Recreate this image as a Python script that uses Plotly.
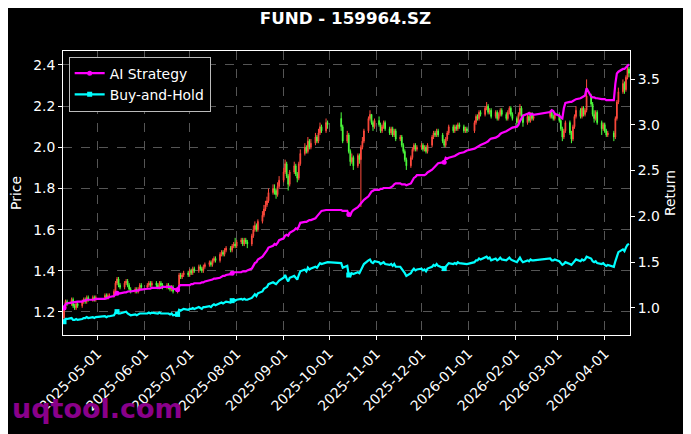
import pandas as pd
import plotly.graph_objects as go

# ---------------- data ----------------
holidays = ['2025-05-01', '2025-05-02', '2025-05-05', '2025-06-02',
            '2025-10-01', '2025-10-02', '2025-10-03', '2025-10-06', '2025-10-07', '2025-10-08',
            '2026-01-01', '2026-01-02',
            '2026-02-16', '2026-02-17', '2026-02-18', '2026-02-19', '2026-02-20', '2026-02-23',
            '2026-04-06']
start_date = '2025-04-09'
end_date = '2026-04-17'

price_open = [
    # Apr 2025
    1.17, 1.22, 1.25, 1.24, 1.26, 1.23, 1.22, 1.24, 1.23, 1.25, 1.26, 1.25, 1.27, 1.26, 1.27, 1.26,
    # May
    1.27, 1.28, 1.27, 1.28, 1.28, 1.30, 1.34, 1.36, 1.33, 1.32, 1.34, 1.35, 1.33, 1.31, 1.30, 1.31, 1.30, 1.31, 1.33,
    # Jun
    1.32, 1.33, 1.34, 1.33, 1.34, 1.33, 1.32, 1.34, 1.33, 1.32, 1.33, 1.32, 1.31, 1.32, 1.30, 1.32, 1.38, 1.37, 1.38, 1.39,
    # Jul
    1.38, 1.40, 1.39, 1.41, 1.40, 1.42, 1.41, 1.40, 1.42, 1.43, 1.44, 1.43, 1.45, 1.46, 1.45, 1.48, 1.49, 1.48, 1.50, 1.51, 1.50, 1.52, 1.53,
    # Aug
    1.52, 1.54, 1.55, 1.53, 1.55, 1.54, 1.53, 1.57, 1.60, 1.62, 1.60, 1.64, 1.67, 1.70, 1.72, 1.74, 1.78, 1.80, 1.79, 1.77, 1.81,
    # Sep
    1.84, 1.88, 1.92, 1.86, 1.82, 1.88, 1.91, 1.87, 1.85, 1.92, 1.97, 2.00, 1.98, 2.03, 2.00, 2.02, 2.05, 2.03, 2.07, 2.10, 2.08, 2.12,
    # Oct
    2.14, 2.10, 2.03, 2.06, 1.98, 1.93, 1.95, 1.91, 1.96, 1.94, 2.00, 2.03, 2.08, 2.14, 2.16, 2.12, 2.10,
    # Nov
    2.13, 2.11, 2.08, 2.10, 2.12, 2.09, 2.07, 2.09, 2.06, 2.08, 2.04, 2.05, 2.01, 1.98, 1.94, 1.91, 1.95, 1.99, 2.01, 1.99,
    # Dec
    2.00, 2.01, 1.99, 2.00, 1.98, 2.01, 2.05, 2.07, 2.06, 2.08, 2.06, 2.03, 2.01, 2.04, 2.07, 2.10, 2.08, 2.10, 2.09, 2.11, 2.10, 2.08, 2.09,
    # Jan 2026
    2.08, 2.12, 2.15, 2.14, 2.17, 2.16, 2.19, 2.20, 2.17, 2.18, 2.15, 2.17, 2.14, 2.16, 2.18, 2.16, 2.14, 2.17, 2.19, 2.16,
    # Feb
    2.14, 2.12, 2.16, 2.19, 2.15, 2.12, 2.15, 2.13, 2.16, 2.14, 2.15, 2.17, 2.15, 2.14,
    # Mar
    2.16, 2.13, 2.09, 2.05, 2.08, 2.12, 2.07, 2.04, 2.10, 2.15, 2.18, 2.15, 2.19, 2.16, 2.18, 2.25, 2.21, 2.16, 2.14, 2.17, 2.12, 2.09,
    # Apr
    2.11, 2.08, 2.06, 2.07, 2.05, 2.14, 2.22, 2.27, 2.31, 2.28, 2.34, 2.38,
]
price_close = [
    1.22, 1.25, 1.24, 1.26, 1.23, 1.22, 1.24, 1.23, 1.25, 1.26, 1.25, 1.27, 1.26, 1.27, 1.26, 1.27,
    1.28, 1.27, 1.28, 1.28, 1.30, 1.34, 1.36, 1.33, 1.32, 1.34, 1.35, 1.33, 1.31, 1.30, 1.31, 1.30, 1.31, 1.33, 1.32,
    1.33, 1.34, 1.33, 1.34, 1.33, 1.32, 1.34, 1.33, 1.32, 1.33, 1.32, 1.31, 1.32, 1.30, 1.31, 1.38, 1.37, 1.38, 1.39, 1.38,
    1.40, 1.39, 1.41, 1.40, 1.42, 1.41, 1.40, 1.42, 1.43, 1.44, 1.43, 1.45, 1.46, 1.45, 1.48, 1.49, 1.48, 1.50, 1.51, 1.50, 1.52, 1.53, 1.52,
    1.54, 1.55, 1.53, 1.55, 1.54, 1.53, 1.57, 1.60, 1.62, 1.60, 1.64, 1.67, 1.70, 1.72, 1.74, 1.78, 1.80, 1.79, 1.77, 1.81, 1.84,
    1.88, 1.92, 1.86, 1.82, 1.88, 1.91, 1.87, 1.85, 1.92, 1.97, 2.00, 1.98, 2.03, 2.00, 2.02, 2.05, 2.03, 2.07, 2.10, 2.08, 2.12, 2.11,
    2.10, 2.03, 2.06, 1.98, 1.93, 1.95, 1.91, 1.96, 1.94, 2.00, 2.03, 2.08, 2.14, 2.16, 2.12, 2.10, 2.13,
    2.11, 2.08, 2.10, 2.12, 2.09, 2.07, 2.09, 2.06, 2.08, 2.04, 2.05, 2.01, 1.98, 1.94, 1.91, 1.95, 1.99, 2.01, 1.99, 2.00,
    2.01, 1.99, 2.00, 1.98, 2.01, 2.05, 2.07, 2.06, 2.08, 2.06, 2.03, 2.01, 2.04, 2.07, 2.10, 2.08, 2.10, 2.09, 2.11, 2.10, 2.08, 2.09, 2.08,
    2.12, 2.15, 2.14, 2.17, 2.16, 2.19, 2.20, 2.17, 2.18, 2.15, 2.17, 2.14, 2.16, 2.18, 2.16, 2.14, 2.17, 2.19, 2.16, 2.14,
    2.12, 2.16, 2.19, 2.15, 2.12, 2.15, 2.13, 2.16, 2.14, 2.15, 2.17, 2.15, 2.14, 2.16,
    2.13, 2.09, 2.05, 2.08, 2.12, 2.07, 2.04, 2.10, 2.15, 2.18, 2.15, 2.19, 2.16, 2.18, 2.25, 2.21, 2.16, 2.14, 2.17, 2.12, 2.09, 2.11,
    2.08, 2.06, 2.07, 2.05, 2.14, 2.22, 2.27, 2.31, 2.28, 2.34, 2.38, 2.36,
]
price_high = [
    1.23, 1.26, 1.26, 1.27, 1.27, 1.24, 1.25, 1.25, 1.26, 1.27, 1.27, 1.28, 1.28, 1.28, 1.28, 1.28,
    1.29, 1.29, 1.29, 1.29, 1.31, 1.35, 1.37, 1.37, 1.34, 1.35, 1.36, 1.36, 1.34, 1.32, 1.32, 1.32, 1.32, 1.34, 1.34,
    1.34, 1.35, 1.35, 1.35, 1.35, 1.34, 1.35, 1.35, 1.34, 1.34, 1.34, 1.33, 1.33, 1.33, 1.32, 1.39, 1.39, 1.39, 1.40, 1.40,
    1.41, 1.41, 1.42, 1.42, 1.43, 1.43, 1.42, 1.43, 1.44, 1.45, 1.45, 1.46, 1.47, 1.47, 1.49, 1.50, 1.50, 1.51, 1.52, 1.52, 1.53, 1.54, 1.56,
    1.55, 1.56, 1.56, 1.56, 1.56, 1.55, 1.58, 1.62, 1.64, 1.63, 1.65, 1.69, 1.72, 1.74, 1.76, 1.80, 1.82, 1.82, 1.80, 1.83, 1.86,
    1.90, 1.94, 1.93, 1.87, 1.89, 1.93, 1.92, 1.88, 1.93, 1.99, 2.02, 2.01, 2.05, 2.04, 2.04, 2.07, 2.06, 2.09, 2.12, 2.11, 2.14, 2.13,
    2.17, 2.11, 2.08, 2.07, 1.99, 1.97, 1.96, 1.97, 1.97, 2.01, 2.05, 2.09, 2.15, 2.18, 2.16, 2.13, 2.14,
    2.15, 2.12, 2.11, 2.13, 2.13, 2.10, 2.10, 2.10, 2.09, 2.09, 2.06, 2.06, 2.02, 1.99, 1.95, 1.96, 2.00, 2.02, 2.02, 2.01,
    2.02, 2.02, 2.01, 2.01, 2.02, 2.06, 2.08, 2.08, 2.09, 2.09, 2.07, 2.04, 2.05, 2.08, 2.11, 2.11, 2.11, 2.11, 2.12, 2.12, 2.11, 2.10, 2.10,
    2.13, 2.16, 2.16, 2.18, 2.18, 2.20, 2.22, 2.21, 2.19, 2.19, 2.18, 2.18, 2.17, 2.19, 2.19, 2.17, 2.18, 2.20, 2.20, 2.17,
    2.15, 2.17, 2.21, 2.20, 2.16, 2.16, 2.16, 2.17, 2.17, 2.16, 2.18, 2.18, 2.16, 2.17,
    2.17, 2.14, 2.10, 2.09, 2.13, 2.13, 2.08, 2.11, 2.16, 2.20, 2.19, 2.20, 2.20, 2.19, 2.33, 2.26, 2.22, 2.18, 2.18, 2.18, 2.13, 2.12,
    2.12, 2.09, 2.08, 2.08, 2.15, 2.23, 2.29, 2.33, 2.32, 2.35, 2.40, 2.39,
]
price_low = [
    1.16, 1.21, 1.23, 1.23, 1.22, 1.21, 1.21, 1.22, 1.22, 1.24, 1.24, 1.24, 1.25, 1.25, 1.25, 1.25,
    1.26, 1.26, 1.26, 1.27, 1.27, 1.29, 1.33, 1.32, 1.31, 1.31, 1.33, 1.32, 1.30, 1.29, 1.29, 1.29, 1.29, 1.30, 1.31,
    1.31, 1.32, 1.32, 1.32, 1.32, 1.31, 1.31, 1.32, 1.31, 1.31, 1.31, 1.30, 1.30, 1.29, 1.29, 1.31, 1.36, 1.36, 1.37, 1.37,
    1.37, 1.38, 1.38, 1.39, 1.39, 1.40, 1.39, 1.39, 1.41, 1.42, 1.42, 1.42, 1.44, 1.44, 1.44, 1.47, 1.47, 1.47, 1.49, 1.49, 1.49, 1.51, 1.51,
    1.51, 1.53, 1.52, 1.52, 1.53, 1.51, 1.52, 1.56, 1.59, 1.59, 1.59, 1.63, 1.66, 1.69, 1.71, 1.73, 1.77, 1.77, 1.75, 1.76, 1.80,
    1.83, 1.87, 1.85, 1.79, 1.81, 1.87, 1.86, 1.83, 1.84, 1.91, 1.96, 1.97, 1.97, 1.99, 1.99, 2.01, 2.02, 2.02, 2.06, 2.07, 2.07, 2.09,
    2.08, 2.02, 2.02, 1.97, 1.91, 1.92, 1.89, 1.90, 1.92, 1.71, 1.99, 2.02, 2.07, 2.13, 2.11, 2.08, 2.09,
    2.10, 2.07, 2.07, 2.09, 2.08, 2.06, 2.06, 2.05, 2.05, 2.03, 2.03, 2.00, 1.97, 1.93, 1.89, 1.90, 1.94, 1.98, 1.98, 1.98,
    1.99, 1.98, 1.98, 1.97, 1.97, 2.00, 2.04, 2.05, 2.05, 2.05, 2.02, 2.00, 2.00, 2.03, 2.06, 2.07, 2.07, 2.08, 2.08, 2.09, 2.07, 2.07, 2.07,
    2.07, 2.11, 2.13, 2.13, 2.15, 2.15, 2.18, 2.16, 2.16, 2.14, 2.14, 2.13, 2.13, 2.15, 2.15, 2.13, 2.13, 2.16, 2.15, 2.13,
    2.10, 2.11, 2.15, 2.14, 2.10, 2.11, 2.12, 2.12, 2.13, 2.13, 2.14, 2.14, 2.13, 2.13,
    2.12, 2.08, 2.03, 2.04, 2.07, 2.06, 2.02, 2.03, 2.09, 2.14, 2.14, 2.14, 2.15, 2.15, 2.17, 2.20, 2.15, 2.12, 2.13, 2.11, 2.06, 2.08,
    2.07, 2.05, 2.05, 2.03, 2.04, 2.13, 2.21, 2.26, 2.26, 2.27, 2.33, 2.34,
]
ai_strategy = [
    1.00, 1.04, 1.05, 1.06, 1.06, 1.06, 1.07, 1.07, 1.07, 1.08, 1.08, 1.09, 1.09, 1.09, 1.09, 1.10,
    1.10, 1.11, 1.11, 1.12, 1.13, 1.15, 1.16, 1.16, 1.16, 1.17, 1.17, 1.18, 1.18, 1.18, 1.19, 1.19, 1.19, 1.20, 1.20,
    1.21, 1.21, 1.21, 1.22, 1.22, 1.22, 1.22, 1.22, 1.23, 1.23, 1.23, 1.23, 1.23, 1.21, 1.20, 1.24, 1.25, 1.25, 1.25, 1.25,
    1.25, 1.26, 1.26, 1.27, 1.27, 1.27, 1.28, 1.28, 1.29, 1.30, 1.30, 1.31, 1.32, 1.32, 1.33, 1.34, 1.35, 1.35, 1.36, 1.37, 1.38, 1.39, 1.39,
    1.39, 1.39, 1.40, 1.40, 1.40, 1.41, 1.43, 1.46, 1.49, 1.50, 1.53, 1.56, 1.58, 1.61, 1.63, 1.66, 1.68, 1.70, 1.69, 1.71, 1.74,
    1.76, 1.79, 1.80, 1.79, 1.82, 1.85, 1.87, 1.86, 1.89, 1.93, 1.94, 1.94, 1.95, 1.96, 1.96, 1.98, 2.00, 2.02, 2.04, 2.06, 2.07, 2.07,
    2.07, 2.06, 2.06, 2.02, 2.01, 2.05, 2.07, 2.10, 2.12, 2.14, 2.16, 2.18, 2.22, 2.25, 2.27, 2.28, 2.29,
    2.29, 2.30, 2.30, 2.31, 2.31, 2.31, 2.32, 2.33, 2.35, 2.36, 2.36, 2.35, 2.35, 2.35, 2.34, 2.36, 2.39, 2.42, 2.43, 2.45,
    2.45, 2.45, 2.45, 2.46, 2.48, 2.51, 2.53, 2.54, 2.56, 2.58, 2.59, 2.59, 2.64, 2.63, 2.64, 2.65, 2.66, 2.67, 2.68, 2.69, 2.70, 2.71, 2.72,
    2.74, 2.75, 2.76, 2.77, 2.78, 2.80, 2.81, 2.82, 2.84, 2.85, 2.86, 2.87, 2.88, 2.90, 2.91, 2.93, 2.94, 2.95, 2.96, 2.97,
    2.98, 3.00, 3.04, 3.08, 3.10, 3.12, 3.13, 3.11, 3.12, 3.11, 3.14, 3.16, 3.15, 3.12,
    3.10, 3.08, 3.07, 3.18, 3.24, 3.25, 3.25, 3.26, 3.27, 3.28, 3.29, 3.30, 3.31, 3.32, 3.40, 3.31, 3.30, 3.30, 3.29, 3.29, 3.28, 3.28,
    3.28, 3.27, 3.27, 3.27, 3.45, 3.56, 3.58, 3.61, 3.61, 3.63, 3.65, 3.66,
]
buy_and_hold = [
    0.85, 0.88, 0.88, 0.89, 0.87, 0.87, 0.88, 0.87, 0.88, 0.89, 0.89, 0.90, 0.89, 0.90, 0.89, 0.90,
    0.91, 0.90, 0.91, 0.91, 0.92, 0.95, 0.96, 0.94, 0.94, 0.95, 0.96, 0.94, 0.93, 0.92, 0.93, 0.92, 0.93, 0.94, 0.94,
    0.94, 0.95, 0.94, 0.95, 0.94, 0.94, 0.95, 0.94, 0.94, 0.94, 0.94, 0.93, 0.94, 0.92, 0.93, 0.98, 0.97, 0.98, 0.99, 0.98,
    0.99, 0.99, 1.00, 0.99, 1.01, 1.00, 0.99, 1.01, 1.01, 1.02, 1.01, 1.03, 1.04, 1.03, 1.05, 1.06, 1.05, 1.06, 1.07, 1.06, 1.08, 1.09, 1.08,
    1.09, 1.10, 1.09, 1.10, 1.09, 1.09, 1.11, 1.13, 1.15, 1.13, 1.16, 1.18, 1.21, 1.22, 1.23, 1.26, 1.28, 1.27, 1.26, 1.28, 1.30,
    1.33, 1.36, 1.32, 1.29, 1.33, 1.35, 1.33, 1.31, 1.36, 1.40, 1.42, 1.40, 1.44, 1.42, 1.43, 1.45, 1.44, 1.47, 1.49, 1.48, 1.50, 1.50,
    1.49, 1.44, 1.46, 1.36, 1.35, 1.38, 1.37, 1.39, 1.38, 1.42, 1.44, 1.48, 1.52, 1.53, 1.50, 1.49, 1.51,
    1.50, 1.48, 1.49, 1.50, 1.48, 1.47, 1.48, 1.46, 1.48, 1.45, 1.45, 1.43, 1.40, 1.38, 1.35, 1.38, 1.41, 1.43, 1.41, 1.42,
    1.43, 1.41, 1.42, 1.40, 1.43, 1.45, 1.47, 1.46, 1.48, 1.46, 1.44, 1.43, 1.45, 1.47, 1.49, 1.48, 1.49, 1.48, 1.50, 1.49, 1.48, 1.48, 1.48,
    1.50, 1.52, 1.52, 1.54, 1.53, 1.55, 1.56, 1.54, 1.55, 1.52, 1.54, 1.52, 1.53, 1.55, 1.53, 1.52, 1.54, 1.55, 1.53, 1.52,
    1.50, 1.53, 1.55, 1.52, 1.50, 1.52, 1.51, 1.53, 1.52, 1.52, 1.54, 1.52, 1.52, 1.53,
    1.51, 1.49, 1.47, 1.48, 1.50, 1.48, 1.47, 1.49, 1.51, 1.53, 1.51, 1.53, 1.52, 1.53, 1.56, 1.54, 1.51, 1.50, 1.51, 1.49, 1.48, 1.49,
    1.47, 1.46, 1.47, 1.45, 1.51, 1.57, 1.61, 1.64, 1.62, 1.66, 1.69, 1.70,
]
marker_dates = ['2025-04-09', '2025-05-14', '2025-06-23', '2025-07-29', '2025-10-14', '2025-12-16']

month_ticks = ['2025-05-01', '2025-06-01', '2025-07-01', '2025-08-01', '2025-09-01', '2025-10-01',
               '2025-11-01', '2025-12-01', '2026-01-01', '2026-02-01', '2026-03-01', '2026-04-01']
price_ticks = [1.2, 1.4, 1.6, 1.8, 2.0, 2.2, 2.4]
return_ticks = [1.0, 1.5, 2.0, 2.5, 3.0, 3.5]

# ---------------- build ----------------
all_days = pd.bdate_range(start_date, end_date)
dates = [d.strftime('%Y-%m-%d') for d in all_days if d.strftime('%Y-%m-%d') not in holidays]
n = min(len(dates), len(price_open), len(price_close), len(price_high), len(price_low),
        len(ai_strategy), len(buy_and_hold))
dates = dates[:n]

RED = '#ff4a3d'
GREEN = '#4dff3d'
MAG = '#ff00ff'
CYAN = '#00ffff'
FS = 13.9
OFF = 8  # page body margin in the browser

W, H = 691 - OFF, 434 - OFF
PL, PR, PT, PB = 63, 630, 51, 335  # plot box in page pixels

fig = go.Figure()
fig.add_trace(go.Candlestick(
    x=dates, open=price_open[:n], high=price_high[:n], low=price_low[:n], close=price_close[:n],
    increasing=dict(line=dict(color=RED, width=1), fillcolor=RED),
    decreasing=dict(line=dict(color=GREEN, width=1), fillcolor=GREEN),
    whiskerwidth=0, showlegend=False, name='Price', yaxis='y'))

mag_colors = [MAG if d in marker_dates else 'rgba(0,0,0,0)' for d in dates]
cyan_colors = [CYAN if d in marker_dates else 'rgba(0,0,0,0)' for d in dates]

fig.add_trace(go.Scatter(
    x=dates, y=ai_strategy[:n], mode='lines+markers', name='AI Strategy',
    line=dict(color=MAG, width=2.2),
    marker=dict(symbol='circle', size=5, color=mag_colors),
    yaxis='y2'))
fig.add_trace(go.Scatter(
    x=dates, y=buy_and_hold[:n], mode='lines+markers', name='Buy-and-Hold',
    line=dict(color=CYAN, width=2.2),
    marker=dict(symbol='square', size=5, color=cyan_colors),
    yaxis='y2'))

axis_common = dict(showline=True, linecolor='white', linewidth=1, ticks='outside',
                   tickcolor='white', ticklen=4, tickwidth=1, zeroline=False, automargin=False,
                   tickfont=dict(size=FS, color='white', family='DejaVu Sans'))

pw, ph = PR - PL, PB - PT

fig.update_layout(
    width=W, height=H,
    paper_bgcolor='black', plot_bgcolor='black',
    margin=dict(l=PL - OFF, r=691 - PR, t=PT - OFF, b=434 - PB),
    font=dict(family='DejaVu Sans', color='white', size=FS),
    title=dict(text='<b>FUND - 159964.SZ</b>', x=(345.5 - OFF) / W, xanchor='center',
               y=1 - (18 - OFF) / H, yanchor='middle',
               font=dict(size=16.7, color='white', family='DejaVu Sans')),
    showlegend=True,
    legend=dict(x=0.01, y=0.98, xanchor='left', yanchor='top', bgcolor='black',
                bordercolor='#bbbbbb', borderwidth=1, itemwidth=30,
                font=dict(size=FS, color='white', family='DejaVu Sans')),
    xaxis=dict(type='date', range=['2025-04-08 08:00', '2026-04-17 16:00'],
               tickvals=month_ticks, ticktext=month_ticks, tickangle=-45,
               showgrid=True, gridcolor='#555555', griddash='dash', gridwidth=0.6,
               mirror=True, rangeslider=dict(visible=False), **axis_common),
    yaxis=dict(range=[1.088, 2.468], tickvals=price_ticks,
               ticktext=[f'{v:.1f}' for v in price_ticks],
               showgrid=True, gridcolor='#555555', griddash='dash', gridwidth=0.6,
               title=dict(text='Price', standoff=8, font=dict(size=FS, color='white')),
               **axis_common),
    yaxis2=dict(range=[0.705, 3.806], overlaying='y', side='right', tickvals=return_ticks,
                ticktext=[f'{v:.1f}' for v in return_ticks], showgrid=False,
                title=dict(text='Return', standoff=6, font=dict(size=FS, color='white')),
                **axis_common),
    annotations=[dict(text='<b>uqtool.com</b>', xref='paper', yref='paper',
                      x=(10 - PL) / pw, y=(PB - 409) / ph, xanchor='left', yanchor='middle',
                      showarrow=False, font=dict(size=27, color='#8a008a', family='DejaVu Sans'))],
)

fig.write_html('out.html')
